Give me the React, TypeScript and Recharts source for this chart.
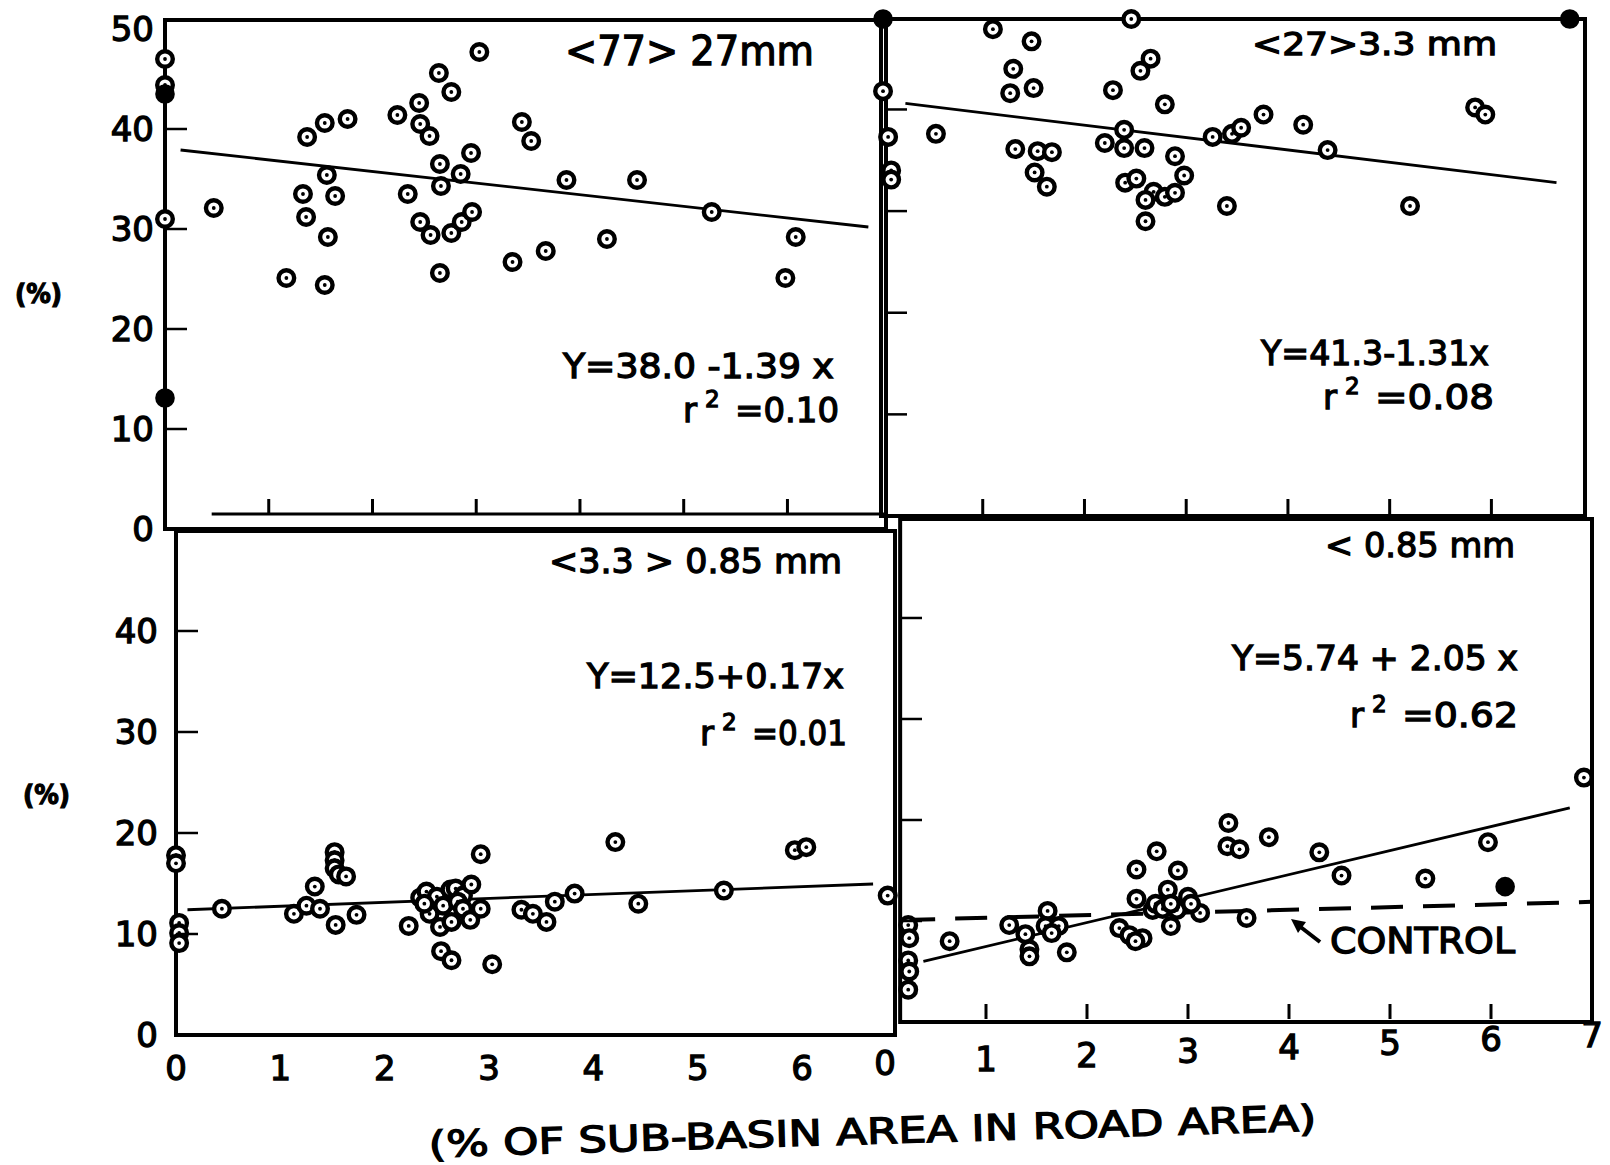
import React from 'react';
import { ScatterChart, Scatter, XAxis, YAxis, ReferenceLine, ReferenceArea } from 'recharts';

const W = 1610;
const H = 1165;
const FONT = '"DejaVu Sans", "Liberation Sans", sans-serif';
const TEXT_STROKE = 1.3;

// ---------- data (x = % of sub-basin area in road area, y = %) ----------
const tlOpen: [number, number][] = [
  [0, 47.0], [0, 44.4], [0, 31.0], [0.47, 32.1], [1.17, 25.1], [1.37, 39.2], [1.33, 33.5], [1.36, 31.2],
  [1.54, 40.6], [1.56, 35.4], [1.64, 33.3], [1.57, 29.2], [1.54, 24.4], [1.76, 41.0], [2.24, 41.4],
  [2.34, 33.5], [2.45, 42.6], [2.46, 40.5], [2.55, 39.3], [2.46, 30.7], [2.56, 29.4], [2.64, 45.6],
  [2.76, 43.7], [2.65, 36.5], [2.66, 34.3], [2.85, 35.5], [2.65, 25.6], [2.76, 29.6], [2.86, 30.7],
  [2.96, 31.7], [2.95, 37.6], [3.03, 47.7], [3.35, 26.7], [3.44, 40.7], [3.53, 38.8], [3.67, 27.8],
  [3.87, 34.9], [4.26, 29.0], [4.55, 34.9], [5.27, 31.7], [5.98, 25.1], [6.08, 29.2],
];
const tlFilled: [number, number][] = [[0, 43.5], [0, 13.1]];
const tlFit: [number, number][] = [[0.15, 37.9], [6.78, 30.2]];

const trOpen: [number, number][] = [
  [0.02, 41.8], [0.07, 37.3], [0.1, 34.0], [0.1, 33.1], [0.54, 37.6], [1.10, 47.9], [1.48, 46.7],
  [1.30, 44.0], [1.27, 41.6], [1.50, 42.1], [1.32, 36.1], [1.54, 35.9], [1.68, 35.8], [1.51, 33.8],
  [1.63, 32.4], [2.46, 48.9], [2.65, 45.0], [2.55, 43.8], [2.28, 41.9], [2.79, 40.5], [2.39, 38.0],
  [2.20, 36.7], [2.39, 36.2], [2.59, 36.2], [2.89, 35.4], [2.98, 33.5], [2.40, 32.8], [2.51, 33.2],
  [2.68, 31.9], [2.79, 31.4], [2.89, 31.8], [2.60, 31.1], [2.60, 29.0], [3.26, 37.3], [3.45, 37.6],
  [3.54, 38.2], [3.76, 39.5], [3.40, 30.5], [4.15, 38.5], [4.39, 36.0], [5.20, 30.5], [5.84, 40.2],
  [5.94, 39.5],
];
const trFilled: [number, number][] = [[0.02, 48.9], [6.77, 48.9]];
const trFit: [number, number][] = [[0.24, 40.6], [6.64, 32.8]];

const blOpen: [number, number][] = [
  [0, 17.8], [0, 17.0], [0.03, 11.1], [0.03, 10.1], [0.03, 9.1], [0.44, 12.5], [1.13, 12.0], [1.25, 12.8],
  [1.38, 12.5], [1.33, 14.7], [1.52, 18.1], [1.52, 17.3], [1.52, 16.5], [1.56, 15.9], [1.63, 15.7],
  [1.53, 10.9], [1.73, 11.9], [2.23, 10.8], [2.34, 13.6], [2.40, 14.2], [2.50, 13.7], [2.63, 14.4],
  [2.68, 14.5], [2.75, 13.8], [2.83, 14.9], [2.43, 12.0], [2.38, 13.0], [2.56, 12.8], [2.70, 13.2],
  [2.53, 10.7], [2.64, 11.2], [2.75, 12.5], [2.82, 11.4], [2.92, 12.5], [2.92, 17.9], [2.54, 8.3],
  [2.64, 7.4], [3.03, 7.0], [3.31, 12.4], [3.42, 12.0], [3.55, 11.2], [3.63, 13.2], [3.82, 14.0],
  [4.21, 19.1], [4.43, 13.0], [5.25, 14.3], [5.93, 18.3], [6.04, 18.6], [6.82, 13.8],
];
const blFit: [number, number][] = [[0.11, 12.4], [6.68, 14.95]];

const brOpen: [number, number][] = [
  [0.23, 9.6], [0.24, 8.3], [0.23, 6.1], [0.24, 5.0], [0.23, 3.2], [0.64, 8.0], [1.23, 9.6], [1.39, 8.7],
  [1.43, 7.2], [1.43, 6.5], [1.61, 11.0], [1.59, 9.5], [1.72, 9.5], [1.65, 8.8], [1.80, 6.9], [2.32, 9.3],
  [2.42, 8.6], [2.55, 8.3], [2.48, 8.0], [2.69, 16.9], [2.49, 15.1], [2.90, 15.0], [2.49, 12.2],
  [2.80, 13.1], [3.00, 12.4], [3.12, 10.8], [2.89, 11.1], [2.83, 9.5], [2.65, 11.1], [2.68, 11.7],
  [2.75, 11.2], [2.83, 11.7], [3.03, 11.7], [3.40, 19.7], [3.39, 17.4], [3.51, 17.1], [3.80, 18.3],
  [3.58, 10.3], [4.30, 16.8], [4.52, 14.5], [5.35, 14.2], [5.97, 17.8], [6.92, 24.2],
];
const brFilled: [number, number][] = [[6.14, 13.4]];
const brFit: [number, number][] = [[0.38, 6.0], [6.78, 21.2]];
const brControl: [number, number][] = [[0.18, 10.1], [7.0, 11.9]];

// ticks
const yLabelsTop = [0, 10, 20, 30, 40, 50];
const yLabelsBottom = [0, 10, 20, 30, 40];
const yInnerMarks = [10, 20, 30, 40];
const xLabelsLeft = [0, 1, 2, 3, 4, 5, 6];
const xLabelsRight = [0, 1, 2, 3, 4, 5, 6, 7];
const xInnerMarks = [1, 2, 3, 4, 5, 6];

// texts
const panelTitles = ['<77> 27mm', '<27>3.3 mm', '<3.3 > 0.85 mm', '< 0.85 mm'];
const equations = ['Y=38.0 -1.39 x', 'Y=41.3-1.31x', 'Y=12.5+0.17x', 'Y=5.74 + 2.05 x'];
const r2Values = ['=0.10', '=0.08', '=0.01', '=0.62'];
const yTitle = '(%)';
const xTitle = '(% OF SUB-BASIN AREA IN ROAD AREA)';
const controlLabel = 'CONTROL';

const pts = (a: [number, number][]) => a.map(([x, y]) => ({ x, y }));
const seg = (a: [number, number][]) => a.map(([x, y]) => ({ x, y }));

const Ring = (p: any) => {
  const { cx, cy } = p;
  if (cx == null || cy == null) return null;
  return (
    <g>
      <circle cx={cx} cy={cy} r={7.8} fill="#fff" stroke="#000" strokeWidth={4.4} />
      <circle cx={cx} cy={cy} r={1.9} fill="#000" />
    </g>
  );
};
const Solid = (p: any) => {
  const { cx, cy } = p;
  if (cx == null || cy == null) return null;
  return <circle cx={cx} cy={cy} r={9.8} fill="#000" />;
};

type Cfg = {
  l: number; r: number; t: number; b: number;
  xMax: number; yMax: number; frameX0: number;
  yLabels: number[] | null; yLabelGap: number;
  xLabels: number[] | null; xLabelDy: (v: number) => number;
  xMarkOffset: number; yMarkOffset: number;
  open: [number, number][]; filled: [number, number][];
  fit: [number, number][]; control?: [number, number][];
  extraBase?: [number, number][];
};

const cfgs: Cfg[] = [
  {
    l: 165, r: 886, t: 20, b: 529, xMax: 6.95, yMax: 50.9, frameX0: 0,
    yLabels: yLabelsTop, yLabelGap: 11, xLabels: null, xLabelDy: () => 0, xMarkOffset: 15, yMarkOffset: 0,
    open: tlOpen, filled: tlFilled, fit: tlFit, extraBase: [[0.45, 1.5], [6.95, 1.5]],
  },
  {
    l: 881, r: 1585, t: 19, b: 516, xMax: 6.92, yMax: 48.9, frameX0: 0,
    yLabels: null, yLabelGap: 0, xLabels: null, xLabelDy: () => 0, xMarkOffset: 2, yMarkOffset: 4,
    open: trOpen, filled: trFilled, fit: trFit,
  },
  {
    l: 176, r: 895, t: 531, b: 1035, xMax: 6.89, yMax: 49.9, frameX0: 0,
    yLabels: yLabelsBottom, yLabelGap: 18, xLabels: xLabelsLeft, xLabelDy: () => 33, xMarkOffset: -1, yMarkOffset: 0,
    open: blOpen, filled: [], fit: blFit,
  },
  {
    l: 885, r: 1592, t: 519, b: 1022, xMax: 7.0, yMax: 49.8, frameX0: 0.15,
    yLabels: null, yLabelGap: 0, xLabels: xLabelsRight, xLabelDy: (v) => 41 - 4 * v, xMarkOffset: 3, yMarkOffset: 15,
    open: brOpen, filled: brFilled, fit: brFit, control: brControl,
  },
];

function Panel({ cfg }: { cfg: Cfg }) {
  // axes get 1px of room (a zero-size axis draws nothing), margins compensate
  const margin = { left: cfg.l - 1, top: cfg.t, right: W - cfg.r, bottom: H - cfg.b - 1 };
  const yTicks = cfg.yLabels ?? yInnerMarks;
  const xTicks = cfg.xLabels ?? xInnerMarks;
  const renderYTick = (p: any) => {
    const v = p.payload?.value;
    const x = p.x;
    const y = p.y;
    return (
      <g>
        {cfg.yLabels && (
          <text x={x - cfg.yLabelGap} y={y} dy="0.36em" textAnchor="end" fontSize={34}
            fontFamily={FONT} fill="#000" stroke="#000" strokeWidth={TEXT_STROKE}>
            {v}
          </text>
        )}
        {yInnerMarks.includes(v) && (
          <line x1={x + cfg.yMarkOffset} x2={x + cfg.yMarkOffset + 22} y1={y} y2={y} stroke="#000" strokeWidth={2.5} />
        )}
      </g>
    );
  };
  const renderXTick = (p: any) => {
    const v = p.payload?.value;
    const x = p.x;
    const y = p.y;
    const showMark = xInnerMarks.includes(v) && cfg.xMarkOffset >= 0;
    return (
      <g>
        {cfg.xLabels && (
          <text x={x} y={y + cfg.xLabelDy(v)} dy="0.36em" textAnchor="middle" fontSize={34}
            fontFamily={FONT} fill="#000" stroke="#000" strokeWidth={TEXT_STROKE}>
            {v}
          </text>
        )}
        {showMark && (
          <line x1={x} x2={x} y1={y - cfg.xMarkOffset} y2={y - cfg.xMarkOffset - 15} stroke="#000" strokeWidth={3} />
        )}
      </g>
    );
  };
  return (
    <div style={{ position: 'absolute', left: 0, top: 0 }}>
      <ScatterChart width={W} height={H} margin={margin}>
        <XAxis type="number" dataKey="x" domain={[0, cfg.xMax]} ticks={xTicks} interval={0}
          height={1} axisLine={false} tickLine={false} tickSize={0} tickMargin={0} tick={renderXTick} />
        <YAxis type="number" dataKey="y" domain={[0, cfg.yMax]} ticks={yTicks} interval={0}
          width={1} axisLine={false} tickLine={false} tickSize={0} tickMargin={0} tick={renderYTick} />
        <ReferenceArea x1={cfg.frameX0} x2={cfg.xMax} y1={0} y2={cfg.yMax} fill="none" fillOpacity={0}
          stroke="#000" strokeWidth={4} ifOverflow="visible" />
        {cfg.extraBase && (
          <ReferenceLine segment={seg(cfg.extraBase)} stroke="#000" strokeWidth={3} ifOverflow="visible" />
        )}
        <ReferenceLine segment={seg(cfg.fit)} stroke="#000" strokeWidth={2.8} />
        {cfg.control && (
          <ReferenceLine segment={seg(cfg.control)} stroke="#000" strokeWidth={4} strokeDasharray="32 20" />
        )}
        <Scatter data={pts(cfg.open)} shape={Ring} isAnimationActive={false} />
        {cfg.filled.length > 0 && <Scatter data={pts(cfg.filled)} shape={Solid} isAnimationActive={false} />}
      </ScatterChart>
    </div>
  );
}

const T = (props: any) => (
  <text fontFamily={FONT} fill="#000" stroke="#000" strokeWidth={TEXT_STROKE} lengthAdjust="spacingAndGlyphs" {...props} />
);

function R2({ x0, x1, base, value }: { x0: number; x1: number; base: number; value: string }) {
  return (
    <g>
      <T x={x0} y={base} fontSize={34}>r</T>
      <T x={x0 + 22} y={base - 15} fontSize={23}>2</T>
      <T x={x1} y={base} fontSize={34} textAnchor="end" textLength={x1 - x0 - 52}>{value}</T>
    </g>
  );
}

function Annotations() {
  return (
    <svg width={W} height={H} style={{ position: 'absolute', left: 0, top: 0 }}>
      <T x={565} y={65} fontSize={40} textLength={249}>{panelTitles[0]}</T>
      <T x={1252} y={55} fontSize={32} textLength={245}>{panelTitles[1]}</T>
      <T x={549} y={573} fontSize={34} textLength={293}>{panelTitles[2]}</T>
      <T x={1325} y={557} fontSize={34} textLength={190}>{panelTitles[3]}</T>

      <T x={563} y={378} fontSize={34} textLength={271}>{equations[0]}</T>
      <T x={1261} y={365} fontSize={34} textLength={228}>{equations[1]}</T>
      <T x={587} y={688} fontSize={34} textLength={257}>{equations[2]}</T>
      <T x={1232} y={670} fontSize={34} textLength={286}>{equations[3]}</T>

      <R2 x0={683} x1={839} base={422} value={r2Values[0]} />
      <R2 x0={1323} x1={1494} base={409} value={r2Values[1]} />
      <R2 x0={700} x1={847} base={745} value={r2Values[2]} />
      <R2 x0={1350} x1={1518} base={727} value={r2Values[3]} />

      <T x={15} y={303} fontSize={27} fontWeight="bold" textLength={47}>{yTitle}</T>
      <T x={23} y={804} fontSize={27} fontWeight="bold" textLength={47}>{yTitle}</T>

      <T x={429} y={1157} fontSize={36} textLength={888} transform="rotate(-1.7 429 1157)">{xTitle}</T>

      <T x={1330} y={953} fontSize={36} textLength={185}>{controlLabel}</T>
      <line x1={1320} y1={942} x2={1298} y2={925} stroke="#000" strokeWidth={4} />
      <polygon points="1291,919 1306,922 1298,933" fill="#000" />
    </svg>
  );
}

export default function App() {
  return (
    <div style={{ position: 'absolute', left: 0, top: 0, width: W, height: H, background: '#fff', overflow: 'hidden' }}>
      {cfgs.map((c, i) => (
        <Panel key={i} cfg={c} />
      ))}
      <Annotations />
    </div>
  );
}
